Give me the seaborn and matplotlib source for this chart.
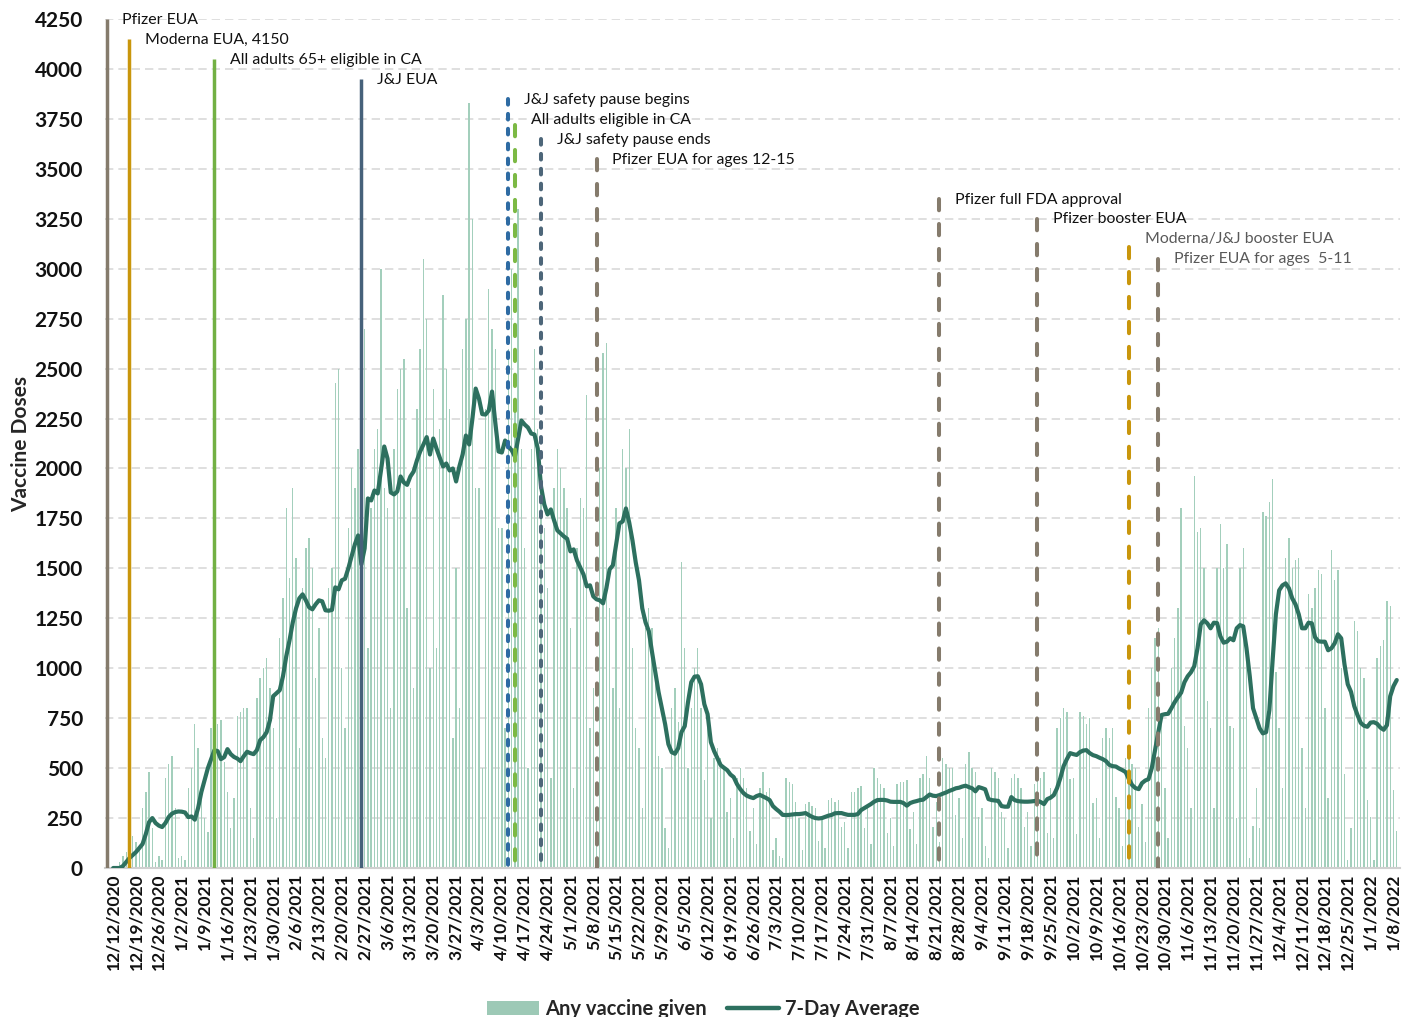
import numpy as np
import pandas as pd
import matplotlib.pyplot as plt
from matplotlib.patches import Patch
from matplotlib.lines import Line2D
import seaborn as sns

# ── Style ────────────────────────────────────────────────────
sns.set_theme(style="white")
plt.rcParams['font.family'] = ['Lato', 'DejaVu Sans']

# ── Data ─────────────────────────────────────────────────────
start = pd.Timestamp('2020-12-12')

# daily doses, one week (Sat..Fri) per row, from 12/12/2020
daily_doses = [
    0, 5, 30, 60, 80, 120, 160,
    130, 100, 300, 380, 480, 200, 30,
    60, 40, 450, 520, 560, 300, 50,
    60, 40, 400, 500, 720, 600, 340,
    250, 180, 700, 760, 720, 740, 530,
    380, 200, 350, 760, 780, 800, 800,
    300, 150, 850, 950, 1000, 1050, 900,
    700, 250, 1150, 1350, 1800, 1450, 1900,
    1550, 600, 1400, 1600, 1650, 1500, 950,
    1200, 650, 550, 1400, 1500, 2430, 2500,
    1000, 700, 1700, 2000, 1900, 2100, 1400,
    2700, 1100, 1800, 2100, 2200, 3000, 1900,
    1800, 800, 2100, 2400, 2500, 2550, 1300,
    1900, 900, 2300, 2600, 3050, 2750, 1000,
    2400, 1100, 2200, 2870, 2500, 2300, 650,
    1500, 800, 2600, 2750, 3830, 3250, 1900,
    1900, 500, 2300, 2900, 2700, 2600, 1700,
    1700, 700, 2600, 3000, 2300, 3300, 2100,
    1600, 500, 2100, 2600, 2200, 2000, 1700,
    1400, 450, 1900, 2100, 2000, 1900, 1800,
    1200, 400, 1600, 1850, 1800, 2370, 700,
    900, 300, 2000, 2580, 2630, 1300, 900,
    1800, 800, 2100, 2000, 2200, 1100, 700,
    600, 300, 1200, 1300, 1200, 1000, 560,
    500, 200, 100, 800, 900, 730, 1530,
    1100, 500, 800, 1000, 1100, 800, 440,
    700, 250, 550, 600, 550, 500, 280,
    350, 150, 450, 500, 450, 400, 185,
    300, 120, 400, 480, 380, 400, 90,
    150, 60, 50, 450, 430, 420, 330,
    250, 90, 320, 330, 310, 300, 136,
    260, 100, 340, 350, 330, 340, 205,
    230, 100, 380, 380, 400, 410, 200,
    300, 120, 500, 450, 420, 400, 176,
    250, 110, 420, 430, 430, 440, 195,
    280, 120, 450, 470, 560, 450, 204,
    330, 130, 550, 520, 500, 500, 263,
    350, 150, 520, 580, 500, 480, 255,
    300, 110, 50, 500, 480, 450, 280,
    250, 100, 450, 470, 450, 400, 204,
    280, 110, 420, 500, 450, 480, 175,
    400, 150, 700, 750, 800, 780, 445,
    450, 170, 780, 760, 720, 750, 325,
    350, 150, 650, 700, 650, 700, 356,
    300, 110, 550, 580, 520, 500, 205,
    320, 130, 800, 1000, 1150, 1200, 762,
    400, 150, 1000, 1150, 1300, 1800, 710,
    600, 300, 1960, 1680, 1700, 1500, 835,
    700, 300, 1500, 1720, 1500, 1620, 710,
    700, 250, 1500, 1600, 1100, 50, 210,
    400, 200, 1780, 1760, 1830, 1945, 980,
    700, 400, 1550, 1650, 1500, 1540, 1550,
    600, 300, 1370, 1300, 1400, 1490, 1470,
    800, 350, 1590, 1440, 1490, 1000, 470,
    40, 200, 1236, 1186, 1000, 950, 338,
    255, 40, 1050, 1110, 1140, 1336, 1311,
    390, 185,
]

# 7-day average line, same days
avg_7day = [
    0, 0, 0, 10, 30, 50, 65, 80, 100, 120,
    170, 230, 250, 225, 212, 205, 225, 255, 272, 280,
    283, 282, 278, 255, 258, 242, 300, 380, 440, 500,
    545, 590, 585, 545, 555, 595, 570, 556, 548, 535,
    560, 582, 575, 570, 590, 640, 655, 680, 740, 860,
    875, 890, 960, 1060, 1140, 1230, 1300, 1350, 1370, 1340,
    1305, 1295, 1320, 1340, 1335, 1290, 1288, 1292, 1405, 1395,
    1440, 1448, 1500, 1560, 1620, 1665, 1520, 1600, 1850, 1840,
    1890, 1875, 1990, 2110, 2050, 1880, 1870, 1885, 1960, 1930,
    1918, 1960, 1985, 2040, 2085, 2120, 2157, 2070, 2150, 2100,
    2054, 2010, 2025, 1990, 2000, 1935, 2010, 2070, 2165, 2120,
    2250, 2400, 2350, 2272, 2270, 2290, 2385, 2230, 2085, 2080,
    2140, 2110, 2092, 2060, 2150, 2240, 2220, 2205, 2175, 2170,
    2100, 1910, 1820, 1770, 1795, 1740, 1690, 1675, 1660, 1648,
    1585, 1595, 1540, 1505, 1470, 1410, 1415, 1360, 1345, 1340,
    1325, 1400, 1495, 1515, 1620, 1725, 1735, 1800, 1730, 1640,
    1530, 1440, 1300, 1230, 1186, 1080, 980, 880, 800, 720,
    620, 580, 572, 600, 680, 710, 830, 930, 958, 960,
    920, 820, 770, 630, 585, 550, 515, 502, 490, 468,
    455, 420, 395, 375, 362, 355, 350, 360, 366, 358,
    350, 340, 310, 295, 282, 266, 265, 266, 268, 270,
    270, 272, 275, 265, 256, 250, 248, 250, 256, 262,
    266, 274, 275, 275, 270, 266, 266, 266, 270, 290,
    300, 310, 320, 332, 340, 341, 341, 338, 332, 331,
    331, 331, 325, 312, 325, 331, 335, 340, 342, 355,
    368, 362, 360, 365, 372, 378, 386, 392, 399, 402,
    408, 412, 405, 399, 384, 405, 400, 394, 345, 340,
    338, 336, 310, 307, 307, 355, 340, 335, 333, 332,
    332, 333, 335, 337, 330, 320, 345, 352, 365, 400,
    450, 510, 545, 575, 570, 566, 580, 588, 590, 575,
    565, 560, 552, 545, 535, 516, 510, 508, 498, 490,
    480, 445, 415, 400, 395, 425, 438, 445, 500, 590,
    680, 766, 770, 772, 800, 830, 855, 878, 930, 960,
    980, 1010, 1100, 1220, 1240, 1225, 1200, 1228, 1226, 1160,
    1128, 1133, 1150, 1140, 1200, 1216, 1210, 1100, 960, 800,
    750, 700, 674, 680, 790, 1040, 1270, 1390, 1415, 1425,
    1400, 1350, 1320, 1270, 1200, 1200, 1228, 1225, 1155, 1135,
    1133, 1133, 1090, 1100, 1125, 1170, 1150, 1020, 920, 882,
    810, 765, 726, 712, 707, 728, 730, 722, 703, 692,
    715, 860, 910, 941,
]

event_labels = ['Pfizer EUA', 'Moderna EUA, 4150', 'All adults 65+ eligible in CA', 'J&J EUA',
                'J&J safety pause begins', 'All adults eligible in CA', 'J&J safety pause ends',
                'Pfizer EUA for ages 12-15', 'Pfizer full FDA approval', 'Pfizer booster EUA',
                'Moderna/J&J booster EUA', 'Pfizer EUA for ages  5-11']
event_dates = ['2020-12-11', '2020-12-18', '2021-01-13', '2021-02-27', '2021-04-13', '2021-04-15',
               '2021-04-23', '2021-05-10', '2021-08-23', '2021-09-22', '2021-10-20', '2021-10-29']
event_tops = [4250, 4150, 4050, 3950, 3850, 3720, 3650, 3550, 3350, 3250, 3110, 3050]
event_text_y = [4245, 4145, 4045, 3945, 3845, 3745, 3645, 3545, 3345, 3250, 3150, 3050]
event_colors = ['#857b6c', '#c9960c', '#72b043', '#46617a', '#2e6ba3', '#7cb944',
                '#4d6679', '#857b6c', '#857b6c', '#857b6c', '#c9960c', '#857b6c']
event_kinds = ['solid', 'solid', 'solid', 'solid', 'dot', 'dash', 'dot',
               'dash', 'dash', 'dash', 'dash', 'dash']
event_text_colors = ['#111111'] * 10 + ['#595959', '#595959']

tick_dates = pd.date_range(start, '2022-01-08', freq='7D')
tick_labels = [f"{d.month}/{d.day}/{d.year}" for d in tick_dates]

df = pd.DataFrame({'day': np.arange(len(daily_doses)), 'doses': daily_doses, 'avg': avg_7day})

BAR = '#a3cfbc'
LINE = '#2d705f'

# ── Figure ───────────────────────────────────────────────────
fig = plt.figure(figsize=(14.15, 10.17), dpi=100)
ax = fig.add_axes([0.0742, 0.1465, 0.9152, 0.8348])

ax.set_axisbelow(True)
ax.yaxis.grid(True, color='#d9d9d9', linestyle=(0, (5, 3)), lw=1.2)
ax.xaxis.grid(False)

sns.barplot(data=df, x='day', y='doses', native_scale=True, color=BAR, saturation=1,
            width=0.42, linewidth=0, errorbar=None, ax=ax)
sns.lineplot(data=df, x='day', y='avg', color=LINE, lw=3.0, legend=False, ax=ax, zorder=4)

# event markers: solid, dotted and dashed vertical rules
styles = {'solid': '-', 'dot': (0, (1.4, 2.3)), 'dash': (0, (2.8, 3.4))}
widths = {'solid': 2.5, 'dot': 2.9, 'dash': 2.9}
for lab, dt, top, ty, c, k, tc in zip(event_labels, event_dates, event_tops, event_text_y,
                                      event_colors, event_kinds, event_text_colors):
    xpos = (pd.Timestamp(dt) - start).days - 1.0
    ax.plot([xpos, xpos], [top, 0], color=c, lw=widths[k], linestyle=styles[k],
            dash_capstyle='round', solid_capstyle='butt', zorder=5)
    ax.text(xpos + 4.8, ty, lab, va='center', ha='left', fontsize=11.4, color=tc, zorder=6)

ax.set_xlim(-2.5, 394)
ax.set_ylim(0, 4250)
ax.set_yticks(range(0, 4251, 250))
ax.set_yticklabels([str(v) for v in range(0, 4251, 250)], fontsize=15, fontweight='bold')
ax.set_xticks(range(0, 393, 7))
ax.set_xticklabels(tick_labels, rotation=90, fontsize=12.5, fontweight='bold')
ax.tick_params(axis='x', length=0, pad=4, colors='#111111')
ax.tick_params(axis='y', length=0, pad=16, colors='#111111')
ax.set_xlabel('')
ax.set_ylabel('Vaccine Doses', fontsize=15, fontweight='bold', labelpad=2)

for s in ['top', 'right', 'left']:
    ax.spines[s].set_visible(False)
ax.spines['bottom'].set_color('#d0d0d0')
ax.spines['bottom'].set_linewidth(1.5)

handles = [Patch(facecolor='#9dc9b6', edgecolor='none'),
           Line2D([0], [0], color=LINE, lw=3.2)]
fig.legend(handles, ['Any vaccine given', '7-Day Average'], loc='lower center',
           bbox_to_anchor=(0.497, -0.02), ncol=2, frameon=False, handlelength=2.6,
           columnspacing=1.0, handletextpad=0.3, prop={'weight': 'bold', 'size': 14.5})

plt.savefig('out.png', dpi=100)
